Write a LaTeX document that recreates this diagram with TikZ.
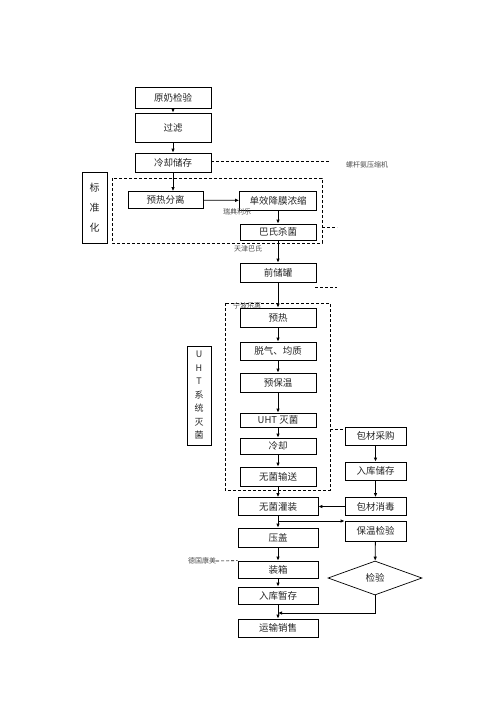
\documentclass[tikz,border=0pt]{standalone}
\usepackage{fontspec}
\setmainfont{Noto Sans CJK SC}
\usetikzlibrary{arrows.meta,shapes.geometric}
\begin{document}
\begin{tikzpicture}[x=1pt,y=-1pt,
  box/.style={draw,line width=0.7pt,fill=white,inner sep=0pt,font=\fontsize{9.5}{11}\selectfont,text=black!85},
  vbox/.style={draw,line width=0.7pt,inner sep=0pt,align=center,text=black!85},
  arr/.style={line width=0.8pt,-{Latex[length=4pt,width=3.5pt]}},
  dsh/.style={line width=0.6pt,dash pattern=on 3pt off 2pt},
  lbl/.style={font=\fontsize{7}{8}\selectfont,inner sep=0pt,text=black!70}]
\useasboundingbox (0,0) rectangle (496,702);
% dashed frames and labels (drawn first)
\draw[dsh] (112,178) rectangle (322,243);
\draw[dsh] (225,303) rectangle (330,490);
\node[lbl] (nblh) at (247,306) {宁波乐惠};
% left column
\node[box,minimum width=76pt,minimum height=21pt] (yn) at (173,97.5) {原奶检验};
\node[box,minimum width=76pt,minimum height=29pt] (gl) at (173,127.5) {过滤};
\node[box,minimum width=76pt,minimum height=19pt] (lq) at (173,162.5) {冷却储存};
\node[vbox,minimum width=25pt,minimum height=71pt,font=\fontsize{10}{20}\selectfont] (bzh) at (94.5,208) {标\\准\\化};
\node[box,minimum width=75pt,minimum height=17pt] (yrfl) at (165.5,200) {预热分离};
\node[box,minimum width=77pt,minimum height=19pt] (dx) at (278,200.5) {单效降膜浓缩};
\node[box,minimum width=76pt,minimum height=16pt] (bs) at (278,232) {巴氏杀菌};
\node[box,minimum width=76pt,minimum height=19pt] (qc) at (278,272.5) {前储罐};
\node[box,minimum width=76pt,minimum height=19pt] (yr) at (278,317.5) {预热};
\node[box,minimum width=76pt,minimum height=18pt] (tq) at (278,351) {脱气、均质};
\node[box,minimum width=76pt,minimum height=19pt] (ybw) at (278,382.5) {预保温};
\node[box,minimum width=76pt,minimum height=14pt] (uht) at (278,420) {UHT 灭菌};
\node[box,minimum width=76pt,minimum height=16pt] (lq2) at (278,446) {冷却};
\node[box,minimum width=76pt,minimum height=19pt] (wjss) at (278,476.5) {无菌输送};
\node[vbox,minimum width=24pt,minimum height=99pt,font=\fontsize{9}{13.5}\selectfont] (uhtxt) at (199,395.5) {U\\H\\T\\系\\统\\灭\\菌};
\node[box,minimum width=80pt,minimum height=18pt] (wjgz) at (278,506.5) {无菌灌装};
\node[box,minimum width=80pt,minimum height=19pt] (yg) at (278,537.5) {压盖};
\node[box,minimum width=80pt,minimum height=17pt] (zx) at (278,569.5) {装箱};
\node[box,minimum width=80pt,minimum height=17pt] (rkzc) at (278,595.5) {入库暂存};
\node[box,minimum width=80pt,minimum height=18pt] (ysxs) at (278,628) {运输销售};
% right column
\node[box,minimum width=61pt,minimum height=18pt] (bccg) at (375.5,436) {包材采购};
\node[box,minimum width=61pt,minimum height=18pt] (rkcc) at (375.5,471) {入库储存};
\node[box,minimum width=61pt,minimum height=18pt] (bcxd) at (375.5,506.5) {包材消毒};
\node[box,minimum width=61pt,minimum height=20pt] (bwjy) at (375.5,531) {保温检验};
\node[draw,line width=0.7pt,diamond,aspect=2.9,inner sep=0pt,minimum width=94pt,minimum height=34pt,font=\fontsize{9.5}{11}\selectfont,text=black!85] (jy) at (375,578) {检验};
% small labels
\node[lbl] (ldys) at (367,165) {螺杆氨压缩机};
\node[lbl] (rdll) at (237,212) {瑞典利乐};
\node[lbl] (tjbs) at (248,249) {天津巴氏};
\node[lbl] (dgkm) at (202,561) {德国康美};
% coordinates
\coordinate (c1) at (330,161);
\coordinate (c2) at (322,227);
\coordinate (c3) at (337,227);
\coordinate (c4) at (315,287);
\coordinate (c5) at (337,287);
\coordinate (c6) at (330,429);
\coordinate (br) at (278,521);
\coordinate (mg) at (278,613);
% dashed links
\draw[dsh] (lq.east |- c1) -- (c1);
\draw[dsh] (c2) -- (c3);
\draw[dsh] (c4) -- (c5);
\draw[dsh] (c6) -- (c6 -| bccg.west);
\draw[dsh] (dgkm.east) -- (zx.north west);
% arrows
\draw[arr] (yn) -- (gl);
\draw[arr] (gl) -- (lq);
\draw[arr] (lq.south) -- (lq.south |- yrfl.north);
\draw[arr] (yrfl) -- (dx);
\draw[arr] (dx) -- (bs);
\draw[arr] (bs) -- (qc);
\draw[arr] (qc) -- (yr);
\draw[arr] (yr) -- (tq);
\draw[arr] (tq) -- (ybw);
\draw[arr] (ybw) -- (uht);
\draw[arr] (uht) -- (lq2);
\draw[arr] (lq2) -- (wjss);
\draw[arr] (wjss) -- (wjgz);
\draw[arr] (wjgz) -- (yg);
\draw[arr] (yg) -- (zx);
\draw[arr] (zx) -- (rkzc);
\draw[arr] (rkzc) -- (ysxs);
\draw[arr] (bccg) -- (rkcc);
\draw[arr] (rkcc) -- (bcxd);
\draw[arr] (bcxd) -- (wjgz);
\draw[arr] (br) -- (br -| bwjy.west);
\draw[arr] (bwjy) -- (jy);
\draw[arr] (jy.south) |- (mg);
\end{tikzpicture}
\end{document}
